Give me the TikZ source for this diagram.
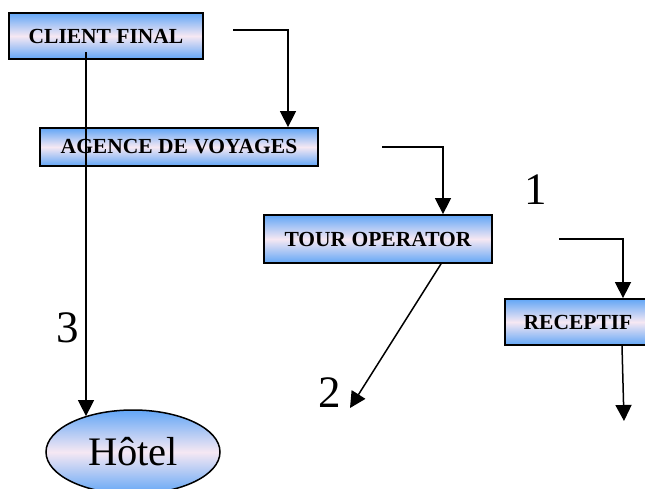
\documentclass[tikz,border=0pt]{standalone}
\usepackage{fontspec}
\setmainfont{Liberation Serif}
\usetikzlibrary{arrows.meta,shapes.geometric,calc}
\definecolor{boxblue}{HTML}{62A6F6}
\definecolor{boxmid}{HTML}{F6E8F3}
\tikzset{
  boxnode/.style={draw=black,line width=1.8pt,top color=boxblue,bottom color=boxblue,middle color=boxmid,
    inner sep=0pt,font=\fontsize{21.5}{24}\selectfont\bfseries},
  ellnode/.style={ellipse,draw=black,line width=1.5pt,top color=boxblue,bottom color=boxblue,middle color=boxmid,
    inner sep=0pt,minimum width=174pt,minimum height=84pt,font=\fontsize{40.5}{46}\selectfont},
  conn/.style={line width=1.5pt,-{Triangle[length=16pt,width=16pt]}},
  numlabel/.style={font=\fontsize{45}{50}\selectfont,inner sep=0pt}
}
\begin{document}
\begin{tikzpicture}[x=1pt,y=-1pt]
\useasboundingbox (0,0) rectangle (645,488);
\node[boxnode,minimum width=194pt,minimum height=46pt] (client) at (106,36) {\raisebox{-1pt}{CLIENT FINAL}};
\node[boxnode,minimum width=278pt,minimum height=38pt] (agence) at (179,147) {\raisebox{-1pt}{AGENCE DE VOYAGES}};
\node[boxnode,minimum width=228pt,minimum height=48pt] (tour) at (378,239) {TOUR OPERATOR};
\node[boxnode,minimum width=146pt,minimum height=46pt] (recep) at (578,322) {RECEPTIF};
\node[ellnode] (hotel) at (133,452) {Hôtel};

\node[numlabel] (n1) at (536,190) {1};
\node[numlabel] (n2) at (330,393) {2};
\node[numlabel] (n3) at (68,328) {3};

\coordinate (s1) at (233,30);
\coordinate (k1) at (288,30);
\draw[conn] (s1) -- (k1) -- (k1 |- agence.north);

\coordinate (s2) at (382,147);
\coordinate (k2) at (443,147);
\draw[conn] (s2) -- (k2) -- (k2 |- tour.north);

\coordinate (s3) at (559,239);
\coordinate (k3) at (623,239);
\draw[conn] (s3) -- (k3) -- (k3 |- recep.north);

\coordinate (k4) at (622,0);
\coordinate (e4) at (624,421);
\draw[conn] (k4 |- recep.south) -- (e4);

\coordinate (s5) at (86,52);
\draw[conn] (s5) -- (s5 |- hotel.143);

\coordinate (k6) at (441,0);
\coordinate (e6) at (350,408);
\draw[conn] (k6 |- tour.south) -- (e6);
\end{tikzpicture}
\end{document}
